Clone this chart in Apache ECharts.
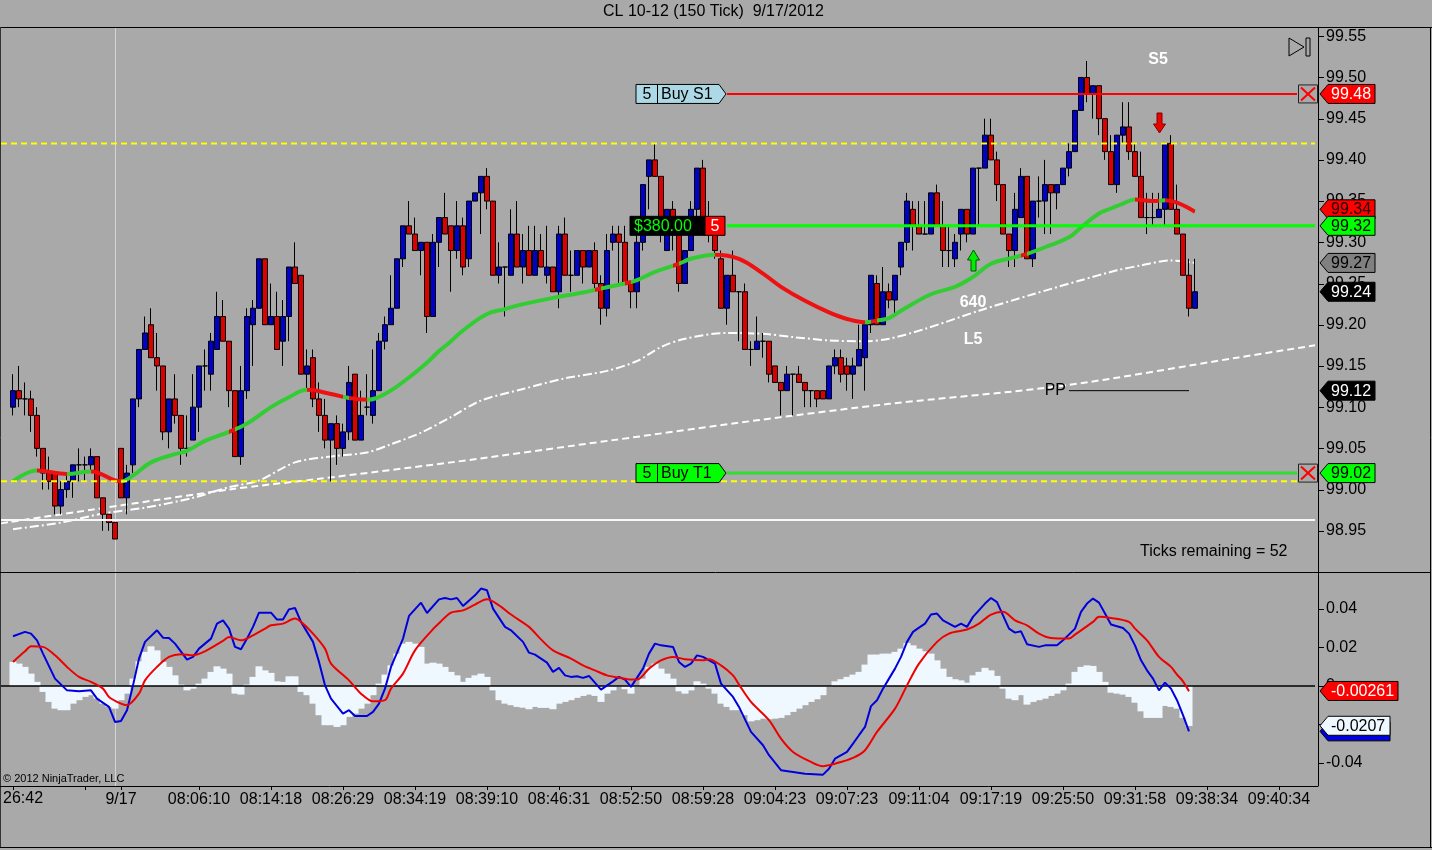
<!DOCTYPE html>
<html><head><meta charset="utf-8">
<script src="https://cdn.jsdelivr.net/npm/echarts@6/dist/echarts.min.js"></script>
<style>html,body{margin:0;padding:0;background:#a9a9a9;}#c{width:1432px;height:850px;}</style>
</head><body><div id="c"></div>
<script>
// ---------- data (bar index 0..197) ----------
const OFFSET = 2;          // first bar sits on category 2
const NCAT = 220;
const open = [99.10,99.12,99.11,99.11,99.09,99.05,99.02,99.02,98.98,99.00,
99.01,99.03,99.03,99.03,99.04,98.99,98.97,98.96,99.05,98.99,
99.03,99.11,99.17,99.20,99.16,99.15,99.07,99.11,99.09,99.05,
99.06,99.10,99.15,99.14,99.17,99.21,99.18,99.12,99.04,99.12,
99.20,99.22,99.28,99.20,99.21,99.18,99.21,99.27,99.26,99.14,
99.16,99.11,99.09,99.06,99.08,99.05,99.07,99.14,99.06,99.10,
99.09,99.12,99.18,99.20,99.22,99.28,99.32,99.31,99.29,99.30,
99.21,99.30,99.33,99.32,99.29,99.32,99.28,99.35,99.36,99.38,
99.35,99.26,99.27,99.26,99.31,99.27,99.29,99.26,99.29,99.26,
99.27,99.24,99.31,99.26,99.26,99.29,99.27,99.29,99.25,99.22,
99.30,99.31,99.30,99.25,99.24,99.30,99.38,99.40,99.38,99.29,
99.34,99.31,99.25,99.29,99.34,99.39,99.33,99.31,99.28,99.22,
99.26,99.24,99.24,99.17,99.17,99.18,99.18,99.15,99.13,99.12,
99.14,99.14,99.13,99.12,99.12,99.12,99.11,99.15,99.16,99.15,
99.14,99.15,99.16,99.20,99.25,99.20,99.24,99.23,99.27,99.30,
99.34,99.32,99.31,99.31,99.36,99.32,99.29,99.28,99.31,99.34,
99.31,99.39,99.39,99.43,99.40,99.37,99.31,99.29,99.33,99.38,
99.28,99.35,99.35,99.37,99.36,99.37,99.39,99.41,99.46,99.50,
99.48,99.49,99.45,99.41,99.37,99.43,99.44,99.41,99.38,99.33,
99.33,99.33,99.34,99.42,99.34,99.31,99.26,99.22];
const high = [99.14,99.15,99.13,99.12,99.10,99.05,99.04,99.02,99.01,99.02,
99.03,99.05,99.04,99.05,99.04,98.99,98.97,98.96,99.05,99.03,
99.11,99.17,99.21,99.22,99.19,99.15,99.11,99.14,99.09,99.09,
99.14,99.15,99.17,99.19,99.24,99.23,99.18,99.12,99.15,99.22,
99.23,99.28,99.28,99.25,99.24,99.23,99.27,99.30,99.26,99.17,
99.17,99.13,99.11,99.08,99.09,99.08,99.15,99.14,99.12,99.14,
99.17,99.19,99.21,99.26,99.28,99.32,99.35,99.33,99.30,99.30,
99.31,99.33,99.36,99.32,99.35,99.33,99.35,99.36,99.38,99.39,
99.35,99.30,99.27,99.34,99.35,99.31,99.32,99.32,99.31,99.32,
99.27,99.32,99.33,99.29,99.29,99.29,99.29,99.30,99.26,99.31,
99.32,99.32,99.32,99.25,99.31,99.37,99.40,99.42,99.38,99.34,
99.35,99.31,99.29,99.35,99.39,99.40,99.35,99.33,99.29,99.26,
99.29,99.24,99.25,99.18,99.21,99.19,99.18,99.15,99.13,99.15,
99.14,99.15,99.13,99.12,99.12,99.12,99.15,99.17,99.17,99.16,
99.16,99.20,99.20,99.26,99.26,99.27,99.25,99.26,99.30,99.36,
99.35,99.35,99.35,99.36,99.37,99.35,99.32,99.31,99.34,99.34,
99.39,99.39,99.45,99.45,99.41,99.37,99.31,99.36,99.39,99.38,
99.35,99.38,99.40,99.37,99.37,99.39,99.42,99.46,99.50,99.52,
99.49,99.49,99.45,99.43,99.43,99.47,99.47,99.42,99.41,99.36,
99.36,99.36,99.42,99.43,99.37,99.31,99.28,99.28];
const low = [99.09,99.10,99.09,99.07,99.04,99.00,99.00,98.97,98.97,98.99,
98.99,99.01,99.01,99.02,98.99,98.95,98.95,98.94,98.99,98.97,
99.02,99.10,99.17,99.16,99.12,99.06,99.05,99.08,99.03,99.04,
99.06,99.07,99.12,99.12,99.17,99.18,99.10,99.04,99.03,99.11,
99.15,99.22,99.20,99.20,99.17,99.15,99.18,99.25,99.14,99.12,
99.10,99.07,99.05,99.01,99.03,99.04,99.06,99.06,99.06,99.09,
99.08,99.12,99.17,99.20,99.22,99.27,99.31,99.29,99.26,99.19,
99.21,99.27,99.31,99.24,99.28,99.26,99.27,99.35,99.31,99.34,
99.26,99.25,99.21,99.26,99.27,99.25,99.26,99.26,99.27,99.25,
99.24,99.22,99.26,99.24,99.26,99.25,99.27,99.24,99.20,99.21,
99.29,99.25,99.25,99.22,99.22,99.29,99.34,99.38,99.30,99.29,
99.29,99.24,99.25,99.29,99.33,99.33,99.30,99.28,99.22,99.20,
99.24,99.18,99.17,99.15,99.17,99.16,99.13,99.13,99.09,99.12,
99.09,99.13,99.10,99.10,99.10,99.11,99.11,99.14,99.13,99.12,
99.11,99.15,99.12,99.19,99.20,99.20,99.22,99.21,99.26,99.29,
99.29,99.31,99.31,99.31,99.32,99.27,99.27,99.27,99.29,99.30,
99.31,99.32,99.39,99.40,99.35,99.31,99.27,99.27,99.33,99.28,
99.27,99.33,99.31,99.31,99.34,99.37,99.38,99.41,99.46,99.47,
99.45,99.43,99.40,99.37,99.36,99.42,99.40,99.38,99.33,99.31,
99.32,99.33,99.32,99.34,99.31,99.26,99.21,99.22];
const close = [99.12,99.11,99.11,99.09,99.05,99.02,99.01,98.98,99.00,99.01,
99.03,99.03,99.03,99.04,98.99,98.97,98.96,98.94,98.99,99.02,
99.11,99.17,99.19,99.16,99.15,99.07,99.11,99.09,99.05,99.05,
99.10,99.15,99.15,99.18,99.21,99.18,99.12,99.04,99.12,99.21,
99.22,99.28,99.20,99.21,99.17,99.21,99.27,99.25,99.14,99.15,
99.11,99.09,99.06,99.08,99.05,99.07,99.13,99.06,99.09,99.10,
99.12,99.18,99.20,99.22,99.28,99.32,99.31,99.29,99.30,99.21,
99.30,99.33,99.31,99.29,99.32,99.27,99.35,99.36,99.38,99.35,
99.26,99.27,99.27,99.31,99.27,99.29,99.26,99.29,99.27,99.27,
99.24,99.31,99.26,99.26,99.29,99.27,99.29,99.25,99.22,99.29,
99.31,99.30,99.25,99.24,99.30,99.37,99.40,99.38,99.33,99.34,
99.33,99.25,99.29,99.34,99.39,99.33,99.31,99.29,99.22,99.26,
99.24,99.24,99.17,99.17,99.18,99.18,99.14,99.13,99.12,99.14,
99.14,99.13,99.12,99.12,99.11,99.11,99.15,99.16,99.14,99.14,
99.15,99.17,99.20,99.26,99.20,99.24,99.23,99.26,99.30,99.35,
99.32,99.31,99.31,99.36,99.32,99.29,99.29,99.30,99.34,99.31,
99.39,99.39,99.43,99.40,99.37,99.31,99.29,99.34,99.38,99.28,
99.35,99.35,99.37,99.36,99.37,99.39,99.41,99.46,99.50,99.48,
99.49,99.45,99.41,99.37,99.43,99.44,99.41,99.38,99.33,99.33,
99.33,99.34,99.42,99.34,99.31,99.26,99.22,99.24];

// moving average (bar, price); red where it falls
const maPts = [[0,99.010],[4,99.023],[9,99.019],[13,99.022],[18,99.010],[20,99.017],[23,99.033],[27,99.043],[29,99.047],[32,99.059],[36,99.070],[39,99.080],[43,99.100],[46,99.112],[49,99.121],[53,99.116],[56,99.111],[59,99.109],[62,99.116],[66,99.136],[69,99.154],[71,99.168],[73,99.180],[75,99.193],[79,99.213],[82,99.219],[85,99.225],[91,99.234],[95,99.239],[98,99.244],[102,99.250],[104,99.254],[107,99.264],[111,99.274],[113,99.280],[117,99.285],[121,99.280],[125,99.262],[128,99.246],[132,99.229],[136,99.215],[139,99.207],[142,99.203],[144,99.205],[146,99.208],[148,99.217],[153,99.237],[157,99.246],[160,99.258],[163,99.274],[167,99.282],[169,99.286],[172,99.294],[176,99.306],[178,99.318],[181,99.335],[183,99.341],[185,99.347],[187,99.352],[190,99.350],[192,99.351],[194,99.348],[197,99.337]];
const maRedRanges = [[4,9],[13,18],[36,37],[49,55],[56,59],[97,98],[102,103],[110,111],[117,142],[143,144],[168,169],[187,191],[192,197]];
const dashDotPts = [[0,98.952],[8,98.960],[15,98.971],[22,98.978],[30,98.990],[36,99.003],[41,99.011],[47,99.033],[54,99.041],[59,99.045],[63,99.055],[68,99.069],[73,99.088],[78,99.108],[85,99.122],[92,99.135],[99,99.144],[104,99.156],[108,99.173],[112,99.183],[119,99.190],[125,99.189],[130,99.185],[136,99.181],[142,99.180],[146,99.183],[152,99.195],[161,99.217],[170,99.237],[178,99.254],[184,99.266],[188,99.272],[193,99.278],[197,99.275]];
const dashedPts = [[-2,98.959],[36,99.000],[51,99.013],[73,99.033],[100,99.060],[124,99.084],[146,99.104],[175,99.126],[204,99.160],[217,99.175]];

// levels
const lvlYellow = [99.42, 99.01];
const lvlWhite = 98.963;
const lvlStop = 99.48, lvlEntry = 99.32, lvlTarget = 99.02, lvlPP = 99.12;

// MACD panel
const macdPts = [[0,0.0258],[2,0.0281],[3,0.0272],[4,0.0237],[5,0.0168],[7,0.0038],[9,-0.0023],[11,-0.0028],[13,-0.0023],[14,-0.0066],[16,-0.0109],[17,-0.0187],[18,-0.0182],[19,-0.0126],[20,0.0003],[21,0.0142],[22,0.0229],[24,0.0289],[25,0.0251],[26,0.0249],[27,0.0220],[29,0.0137],[30,0.0151],[31,0.0194],[33,0.0246],[34,0.0324],[35,0.0341],[36,0.0298],[37,0.0203],[38,0.0191],[39,0.0246],[40,0.0307],[41,0.0381],[43,0.0381],[44,0.0345],[45,0.0345],[46,0.0398],[47,0.0405],[48,0.0333],[49,0.0281],[50,0.0229],[51,0.0125],[52,0.0003],[53,-0.0066],[55,-0.0144],[56,-0.0126],[57,-0.0156],[59,-0.0156],[60,-0.0135],[61,-0.0092],[62,-0.0014],[63,0.0099],[65,0.0246],[66,0.0364],[68,0.0433],[69,0.0379],[71,0.0450],[72,0.0457],[73,0.0450],[74,0.0457],[75,0.0416],[77,0.0471],[78,0.0506],[79,0.0497],[80,0.0402],[82,0.0307],[83,0.0289],[85,0.0229],[86,0.0173],[87,0.0163],[89,0.0121],[90,0.0073],[91,0.0094],[92,0.0055],[93,0.0047],[94,0.0050],[95,0.0042],[96,0.0052],[98,-0.0019],[100,0.0024],[101,0.0047],[102,0.0033],[103,-0.0005],[105,0.0090],[106,0.0168],[107,0.0220],[108,0.0211],[110,0.0203],[111,0.0125],[112,0.0099],[113,0.0116],[114,0.0159],[115,0.0151],[117,0.0116],[118,0.0012],[120,-0.0057],[121,-0.0109],[123,-0.0239],[125,-0.0308],[126,-0.0360],[128,-0.0438],[130,-0.0447],[132,-0.0456],[135,-0.0461],[136,-0.0430],[137,-0.0378],[139,-0.0343],[140,-0.0300],[141,-0.0256],[142,-0.0213],[143,-0.0105],[144,-0.0074],[145,-0.0014],[146,0.0038],[147,0.0090],[148,0.0151],[149,0.0229],[150,0.0281],[151,0.0303],[152,0.0324],[153,0.0371],[154,0.0376],[155,0.0341],[157,0.0307],[158,0.0324],[159,0.0307],[160,0.0359],[162,0.0428],[163,0.0457],[164,0.0436],[165,0.0367],[166,0.0298],[167,0.0277],[168,0.0284],[169,0.0217],[171,0.0203],[172,0.0211],[174,0.0211],[175,0.0237],[177,0.0298],[178,0.0385],[179,0.0428],[180,0.0454],[181,0.0433],[182,0.0376],[183,0.0319],[185,0.0301],[186,0.0272],[187,0.0211],[188,0.0133],[189,0.0081],[190,0.0038],[191,-0.0023],[192,0.0017],[193,-0.0014],[194,-0.0074],[195,-0.0152],[196,-0.0236]];
const signalPts = [[0,0.0125],[2,0.0180],[3,0.0206],[5,0.0203],[7,0.0159],[9,0.0099],[11,0.0047],[13,0.0021],[15,-0.0014],[16,-0.0057],[18,-0.0092],[19,-0.0100],[21,-0.0040],[22,0.0029],[24,0.0099],[26,0.0151],[28,0.0165],[30,0.0159],[32,0.0180],[35,0.0234],[36,0.0255],[38,0.0237],[40,0.0263],[42,0.0298],[43,0.0315],[45,0.0324],[47,0.0350],[48,0.0333],[50,0.0272],[52,0.0194],[53,0.0116],[56,0.0029],[58,-0.0040],[60,-0.0080],[62,-0.0074],[63,-0.0014],[65,0.0064],[67,0.0185],[70,0.0295],[71,0.0326],[73,0.0381],[75,0.0393],[77,0.0423],[79,0.0450],[81,0.0419],[83,0.0371],[86,0.0307],[88,0.0242],[90,0.0185],[93,0.0142],[95,0.0107],[97,0.0081],[99,0.0055],[101,0.0043],[103,0.0033],[104,0.0033],[106,0.0090],[108,0.0133],[110,0.0151],[112,0.0139],[115,0.0133],[116,0.0139],[118,0.0107],[120,0.0055],[121,0.0007],[123,-0.0083],[126,-0.0178],[128,-0.0274],[130,-0.0343],[133,-0.0395],[135,-0.0417],[137,-0.0404],[140,-0.0374],[142,-0.0334],[144,-0.0239],[147,-0.0118],[149,0.0003],[151,0.0116],[154,0.0229],[156,0.0272],[159,0.0293],[161,0.0324],[163,0.0371],[165,0.0385],[167,0.0341],[169,0.0315],[171,0.0272],[173,0.0249],[176,0.0246],[177,0.0267],[180,0.0333],[181,0.0359],[183,0.0353],[186,0.0333],[187,0.0298],[189,0.0237],[191,0.0151],[193,0.0099],[194,0.0059],[195,0.0024],[196,-0.0028]];
const diff = [0.0125,0.0116,0.0099,0.0064,0.0021,-0.0031,-0.0083,-0.0118,-0.0126,-0.0126,
-0.0092,-0.0074,-0.0057,-0.0048,-0.0066,-0.0092,-0.0109,-0.0118,-0.0074,-0.0040,
0.0038,0.0128,0.0177,0.0206,0.0185,0.0125,0.0099,0.0055,0.0007,-0.0023,
-0.0014,0.0012,0.0038,0.0073,0.0102,0.0090,0.0064,-0.0040,-0.0045,0.0007,
0.0047,0.0102,0.0081,0.0068,0.0024,0.0021,0.0050,0.0050,-0.0031,-0.0048,
-0.0092,-0.0152,-0.0204,-0.0204,-0.0213,-0.0204,-0.0161,-0.0144,-0.0118,-0.0092,
-0.0048,0.0012,0.0059,0.0107,0.0168,0.0220,0.0229,0.0220,0.0203,0.0116,
0.0121,0.0116,0.0099,0.0073,0.0055,0.0021,0.0042,0.0055,0.0064,0.0047,
-0.0023,-0.0074,-0.0092,-0.0100,-0.0109,-0.0113,-0.0121,-0.0109,-0.0114,-0.0114,
-0.0121,-0.0092,-0.0083,-0.0074,-0.0062,-0.0052,-0.0045,-0.0052,-0.0083,-0.0040,
-0.0023,-0.0005,-0.0017,-0.0040,-0.0005,0.0038,0.0099,0.0116,0.0090,0.0064,
0.0038,-0.0028,-0.0040,-0.0023,0.0024,0.0012,-0.0014,-0.0040,-0.0092,-0.0109,
-0.0126,-0.0126,-0.0152,-0.0184,-0.0178,-0.0170,-0.0173,-0.0170,-0.0166,-0.0152,
-0.0135,-0.0118,-0.0100,-0.0083,-0.0069,-0.0048,-0.0005,0.0024,0.0035,0.0047,
0.0059,0.0073,0.0111,0.0163,0.0163,0.0168,0.0168,0.0177,0.0194,0.0223,
0.0211,0.0194,0.0180,0.0168,0.0133,0.0090,0.0047,0.0035,0.0029,0.0017,
0.0055,0.0073,0.0094,0.0081,0.0052,-0.0014,-0.0066,-0.0074,-0.0048,-0.0097,
-0.0083,-0.0074,-0.0066,-0.0052,-0.0040,-0.0023,0.0012,0.0073,0.0099,0.0107,
0.0104,0.0073,0.0021,-0.0035,-0.0040,-0.0045,-0.0057,-0.0087,-0.0132,-0.0166,
-0.0166,-0.0166,-0.0104,-0.0109,-0.0118,-0.0166,-0.0208];

// axis ticks / labels
const priceTicks = [98.95,99.00,99.05,99.10,99.15,99.20,99.25,99.30,99.35,99.40,99.45,99.50,99.55];
const macdTicks = [-0.04,-0.02,0,0.02,0.04];
const firstLabel = '26:42';          // clipped first time label at the left edge
const timeLabels = {20:'9/17',33:'08:06:10',45:'08:14:18',57:'08:26:29',69:'08:34:19',81:'08:39:10',93:'08:46:31',105:'08:52:50',117:'08:59:28',129:'09:04:23',141:'09:07:23',153:'09:11:04',165:'09:17:19',177:'09:25:50',189:'09:31:58',201:'09:38:34',213:'09:40:34'};
const extraTicks = [2, 14];
const dateLineCat = 19;

// ---------- build ----------
const FF = '"Liberation Sans", Arial, Helvetica, sans-serif';
const F16 = '16px ' + FF;
const cats = Array.from({length: NCAT}, (_, i) => String(i));
const candle = cats.map((_, k) => { const i = k - OFFSET; return (i >= 0 && i < open.length) ? [open[i], close[i], low[i], high[i]] : ['-','-','-','-']; });
const hist = cats.map((_, k) => { const i = k - OFFSET; return (i >= 0 && i < diff.length) ? diff[i] : '-'; });
const sh = pts => pts.map(p => [p[0] + OFFSET, p[1]]);
const flat = (a, b, v) => [[a, v], [b, v]];

const GREEN = '#32cd32', RED = '#ee1111';
const pieces = []; let cur = 0;
maRedRanges.forEach(r => { const a = r[0] + OFFSET, b = r[1] + OFFSET; if (a > cur) pieces.push({gte: cur, lt: a, color: GREEN}); pieces.push({gte: a, lt: b, color: RED}); cur = b; });
pieces.push({gte: cur, lte: NCAT, color: GREEN});

const tickSet = new Set(Object.keys(timeLabels).map(Number).concat(extraTicks));

function lvl(name, data, color, width, type, z) {
  return {name, type: 'line', xAxisIndex: 0, yAxisIndex: 0, data, symbol: 'none', silent: true, z: z || 5,
    lineStyle: {color, width, type: type || 'solid'}, animation: false};
}

const series = [
  {name: 'dashed', type: 'line', xAxisIndex: 0, yAxisIndex: 0, data: sh(dashedPts), symbol: 'none', smooth: 0.3, z: 1,
   lineStyle: {color: '#ffffff', width: 2, type: [7, 4]}},
  {name: 'dashdot', type: 'line', xAxisIndex: 0, yAxisIndex: 0, data: sh(dashDotPts), symbol: 'none', smooth: 0.3, z: 1,
   lineStyle: {color: '#ffffff', width: 2, type: [9, 3, 2, 3]}},
  {name: 'price', type: 'candlestick', xAxisIndex: 0, yAxisIndex: 0, data: candle, barWidth: 5, z: 2,
   itemStyle: {color: '#0000cc', color0: '#dd0000', borderColor: '#000', borderColor0: '#000', borderColorDoji: '#000', borderWidth: 1}},
  {name: 'ma', type: 'line', xAxisIndex: 0, yAxisIndex: 0, data: sh(maPts), symbol: 'none', smooth: 0.4, z: 3,
   lineStyle: {width: 4}},
  lvl('yHi', flat(0, NCAT - 1, lvlYellow[0]), '#ffff00', 2, [6, 4]),
  lvl('yLo', flat(0, NCAT - 1, lvlYellow[1]), '#ffff00', 2, [6, 4]),
  lvl('white', flat(0, NCAT - 1, lvlWhite), '#f8f8f8', 2),
  lvl('stop', flat(121, 216, lvlStop), '#ff0000', 2),
  lvl('entry', flat(121, NCAT - 1, lvlEntry), '#00ff00', 3),
  lvl('target', flat(121, 216, lvlTarget), '#33dd33', 3),
  lvl('pp', flat(178, 198, lvlPP), '#000000', 1),
  // MACD panel
  {name: 'diff', type: 'bar', xAxisIndex: 1, yAxisIndex: 1, data: hist, barWidth: 7, z: 1,
   itemStyle: {color: '#f0f8ff'}, silent: true},
  {name: 'zero', type: 'line', xAxisIndex: 1, yAxisIndex: 1, data: flat(0, NCAT - 1, 0), symbol: 'none', z: 2,
   lineStyle: {color: '#000', width: 1.5}},
  {name: 'macd', type: 'line', xAxisIndex: 1, yAxisIndex: 1, data: sh(macdPts), symbol: 'none', z: 3,
   lineStyle: {color: '#0000dd', width: 2}},
  {name: 'avg', type: 'line', xAxisIndex: 1, yAxisIndex: 1, data: sh(signalPts), symbol: 'none', smooth: 0.3, z: 3,
   lineStyle: {color: '#ee0000', width: 2}}
];

const axLabel = {color: '#000', fontSize: 16, fontFamily: FF};
const option = {
  animation: false,
  backgroundColor: '#a9a9a9',
  textStyle: {fontFamily: FF},
  title: {text: 'CL 10-12 (150 Tick)  9/17/2012', left: 603, top: 4, padding: 0,
    textStyle: {fontSize: 16, fontWeight: 'normal', color: '#000', fontFamily: FF}},
  grid: [
    {left: 1, top: 28, width: 1314, height: 544, containLabel: false, outerBoundsMode: 'none'},
    {left: 1, top: 573, width: 1314, height: 213, containLabel: false, outerBoundsMode: 'none'}
  ],
  visualMap: [{type: 'piecewise', show: false, seriesIndex: 3, dimension: 0, pieces}],
  xAxis: [
    {type: 'category', gridIndex: 0, data: cats, boundaryGap: false, axisLine: {show: false, onZero: false}, axisTick: {show: false}, axisLabel: {show: false}, splitLine: {show: false}},
    {type: 'category', gridIndex: 1, data: cats, boundaryGap: false, position: 'bottom', axisLine: {show: false, onZero: false},
     axisTick: {show: true, length: 4, interval: (i) => tickSet.has(i), lineStyle: {color: '#000'}},
     axisLabel: Object.assign({interval: (i) => timeLabels[i] !== undefined, margin: 6,
       formatter: (v) => timeLabels[Number(v)] || ''}, axLabel),
     splitLine: {show: false}}
  ],
  yAxis: [
    {type: 'value', gridIndex: 0, position: 'right', offset: 3, min: 98.90, max: 99.56,
     axisLine: {show: true, lineStyle: {color: '#000', width: 1}},
     axisTick: {show: false},
     axisLabel: Object.assign({customValues: priceTicks, margin: 8, formatter: v => v.toFixed(2)}, axLabel),
     splitLine: {show: false}},
    {type: 'value', gridIndex: 1, position: 'right', offset: 3, min: -0.0520, max: 0.0587,
     axisLine: {show: true, lineStyle: {color: '#000', width: 1}},
     axisTick: {show: false},
     axisLabel: Object.assign({customValues: macdTicks, margin: 8, formatter: v => String(+v.toFixed(2))}, axLabel),
     splitLine: {show: false}}
  ],
  series
};

const chart = echarts.init(document.getElementById('c'), null, {renderer: 'canvas'});
chart.setOption(option);

// ---------- annotations ----------
const P = (cat, v, g) => chart.convertToPixel({gridIndex: g || 0}, [cat, v]);
const yP = v => P(0, v, 0)[1];
const yM = v => P(0, v, 1)[1];
const G = [];
const line = (x1, y1, x2, y2, stroke, w, z) => ({type: 'line', silent: true, z: z == null ? 90 : z, shape: {x1, y1, x2, y2}, style: {stroke, lineWidth: w || 1}});
const text = (t, x, y, fill, font, align, z) => ({type: 'text', silent: true, z: z || 95, style: {text: t, x, y, fill, font, align: align || 'left', verticalAlign: 'middle'}});
const poly = (pts, fill, stroke, z) => ({type: 'polygon', silent: true, z: z || 92, shape: {points: pts}, style: {fill, stroke, lineWidth: 1}});

// frames
G.push(line(0, 27.5, 1432, 27.5, '#000'), line(0.5, 27, 0.5, 848, '#333'), line(1430.5, 27, 1430.5, 848, '#000'),
       line(0, 847.5, 1432, 847.5, '#000'), line(0, 572.5, 1431, 572.5, '#000'), line(0, 786.5, 1318, 786.5, '#000'));
// y-axis tick marks
priceTicks.forEach(v => { const y = Math.round(yP(v)) + 0.5; G.push(line(1318, y, 1324, y, '#000', 1, 91)); });
macdTicks.forEach(v => { const y = Math.round(yM(v)) + 0.5; G.push(line(1318, y, 1324, y, '#000', 1, 91)); });
// date separator
const dX = Math.round(P(dateLineCat, 99, 0)[0]) + 0.5;
G.push(line(dX, 28, dX, 786, '#d4d4d4', 1, 0));
// first (clipped) time label
G.push(text(firstLabel, 3, 799, '#000', F16, 'left'));

// value flags on the right axis
function flag(y, x1, fill, tc, t, z) {
  G.push(poly([[1320, y], [1328, y - 9.5], [x1, y - 9.5], [x1, y + 9.5], [1328, y + 9.5]], fill, '#000', z || 96));
  G.push(text(t, 1331, y + 0.5, tc, F16, 'left', (z || 96) + 1));
}
flag(yP(lvlStop), 1375, '#ff0000', '#fff', '99.48');
flag(yP(99.34), 1375, '#ff0000', '#200000', '99.34');
flag(yP(lvlEntry), 1375, '#00ff00', '#000', '99.32', 98);
flag(yP(99.275), 1375, '#808080', '#000', '99.27');
flag(yP(close[close.length - 1]), 1375, '#000', '#fff', '99.24');
flag(yP(lvlPP), 1375, '#000', '#fff', '99.12');
flag(yP(lvlTarget), 1375, '#00ff00', '#000', '99.02');
flag(yM(-0.0236), 1390, '#0000dd', '#fff', '', 96);
flag(yM(-0.0207), 1390, '#f0f8ff', '#000', '-0.0207', 98);
flag(yM(-0.00261), 1398, '#ff0000', '#fff', '-0.00261', 100);

// order tags
function orderTag(y, fill, label) {
  G.push(poly([[636, y - 9.5], [719, y - 9.5], [726, y], [719, y + 9.5], [636, y + 9.5]], fill, '#000'));
  G.push(line(657.5, y - 9.5, 657.5, y + 9.5, '#000', 1, 93));
  G.push(text('5', 647, y + 0.5, '#000', F16, 'center'));
  G.push(text(label, 661, y + 0.5, '#000', F16, 'left'));
}
orderTag(yP(lvlStop), '#add8e6', 'Buy S1');
orderTag(yP(lvlTarget), '#00ff00', 'Buy T1');
const ye = yP(lvlEntry);
G.push({type: 'rect', silent: true, z: 92, shape: {x: 630, y: ye - 9.5, width: 75, height: 19}, style: {fill: '#000', stroke: '#000'}});
G.push(text('$380.00', 634, ye + 0.5, '#00ff00', F16, 'left'));
G.push({type: 'rect', silent: true, z: 92, shape: {x: 705, y: ye - 9.5, width: 20, height: 19}, style: {fill: '#ff0000', stroke: '#000'}});
G.push(text('5', 715, ye + 0.5, '#fff', F16, 'center'));

// close boxes
[lvlStop, lvlTarget].forEach(v => {
  const y = yP(v);
  G.push({type: 'rect', silent: true, z: 92, shape: {x: 1298.5, y: y - 9, width: 19, height: 18}, style: {fill: '#a9a9a9', stroke: '#222'}});
  G.push(line(1301, y - 6.5, 1315, y + 6.5, '#ff0000', 2, 93), line(1315, y - 6.5, 1301, y + 6.5, '#ff0000', 2, 93));
});

// play icon
G.push(poly([[1289, 38], [1289, 56], [1304, 47]], 'none', '#000'));
G.push({type: 'rect', silent: true, z: 92, shape: {x: 1306, y: 38, width: 4, height: 18}, style: {fill: 'none', stroke: '#000'}});

// arrows
G.push(poly([[1157, 113], [1162, 113], [1162, 124], [1165.5, 124], [1159.5, 133], [1153.5, 124], [1157, 124]], '#ee0000', '#800000'));
G.push(poly([[971, 271], [976, 271], [976, 260], [979.5, 260], [973.5, 250], [967.5, 260], [971, 260]], '#00ee00', '#005500'));

// texts
const B16 = 'bold 16px ' + FF;
G.push(text('S5', 1158, 60, '#fff', B16, 'center'));
G.push(text('640', 973, 303, '#fff', B16, 'center'));
G.push(text('L5', 973, 340, '#fff', B16, 'center'));
G.push(text('PP', 1066, yP(lvlPP), '#000', F16, 'right'));
G.push(text('Ticks remaining = 52', 1140, 552, '#000', F16, 'left'));
G.push(text('\u00a9 2012 NinjaTrader, LLC', 3, 779, '#000', '11px ' + FF, 'left'));

chart.setOption({graphic: G});
</script>
</body></html>
